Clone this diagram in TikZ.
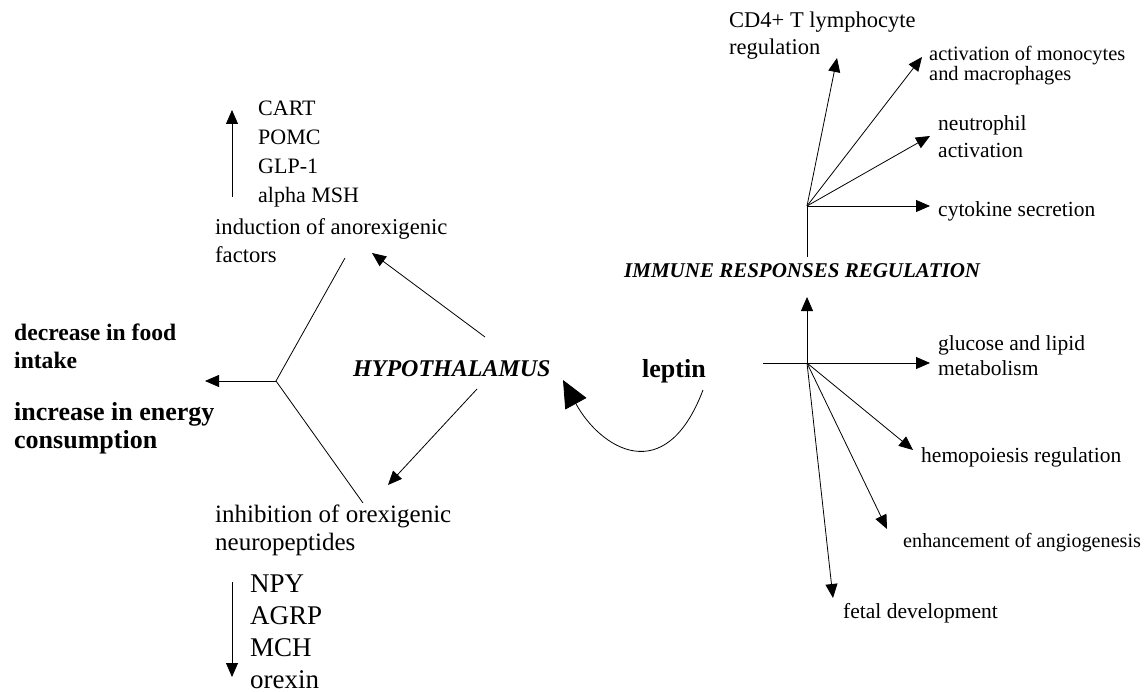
\documentclass[tikz,border=0pt]{standalone}
\usepackage{fontspec}
\setmainfont{Liberation Serif}
\usetikzlibrary{arrows.meta}
\newcommand{\fs}[2]{\fontsize{#1}{#2}\selectfont}
\tikzset{
  lbl/.style={anchor=base west, inner sep=0pt, align=left},
  ln/.style={line width=0.8pt},
  arr/.style={ln, -{Triangle[length=14pt,width=12pt]}},
  bigarr/.style={ln, -{Triangle[length=27pt,width=24pt]}}
}

\begin{document}
\begin{tikzpicture}[x=1pt,y=-1pt]
        \useasboundingbox (0,0) rectangle (1147,692);

        \node[lbl, font=\fs{22}{29.3}] (anorexlist) at (258,203) {CART\\POMC\\GLP-1\\alpha MSH};
        \node[lbl, font=\fs{22.6}{28}] (induction) at (215,263) {induction of anorexigenic\\factors};
        \node[lbl, font=\fs{25}{28}] (inhibition) at (215,550) {inhibition of orexigenic\\neuropeptides};
        \node[lbl, font=\fs{27}{32}] (orexlist) at (250,688) {NPY\\AGRP\\MCH\\orexin};
        \node[lbl, font=\bfseries\fs{23.6}{28}] (food) at (14,368) {decrease in food\\intake};
        \node[lbl, font=\bfseries\fs{26}{28}] (energy) at (14,448) {increase in energy\\consumption};
        \node[lbl, font=\bfseries\itshape\fs{24}{28}] (hypo) at (353,376) {HYPOTHALAMUS};
        \node[lbl, font=\bfseries\fs{26}{28}] (leptin) at (642,377) {leptin};
        \node[lbl, font=\bfseries\itshape\fs{21}{28}] (immune) at (624,277) {IMMUNE RESPONSES REGULATION};

        \node[lbl, font=\fs{22.5}{27}] (cdfour) at (729,55) {CD4+ T lymphocyte\\regulation};
        \node[lbl, font=\fs{20.4}{20}] (mono) at (929,81) {activation of monocytes\\and macrophages};
        \node[lbl, font=\fs{21.5}{27}] (neutro) at (938,158) {neutrophil\\activation};
        \node[lbl, font=\fs{21.5}{27}] (cyto) at (938,217) {cytokine secretion};
        \node[lbl, font=\fs{21.5}{25}] (glucose) at (938,375) {glucose and lipid\\metabolism};
        \node[lbl, font=\fs{21.5}{27}] (hemo) at (921,462) {hemopoiesis regulation};
        \node[lbl, font=\fs{20.2}{27}] (angio) at (903,547) {enhancement of angiogenesis};
        \node[lbl, font=\fs{21.5}{27}] (fetal) at (843,618) {fetal development};

        \coordinate (anorexfoot) at (232,197);
        \coordinate (anorextip) at (232,110);
        \coordinate (orexfoot) at (232,582);
        \coordinate (orextip) at (232,677);
        \coordinate (hypoup) at (485,337);
        \coordinate (inductip) at (372,253);
        \coordinate (hypodown) at (477,389);
        \coordinate (inhibtip) at (388,485);
        \coordinate (forkup) at (345,258);
        \coordinate (fork) at (276,381);
        \coordinate (forkdown) at (363,503);
        \coordinate (forktip) at (205,381);
        \coordinate (leptinfoot) at (703,390);
        \coordinate (hypotip) at (563,380);

        \coordinate (immunehub) at (807,206);
        \coordinate (immunefoot) at (807,257);
        \coordinate (cdfourtip) at (837,58);
        \coordinate (monotip) at (922,57);
        \coordinate (neutrotip) at (930,136);
        \coordinate (cytotip) at (930,206);

        \coordinate (leptinhub) at (807,363);
        \coordinate (leptinleft) at (763,363);
        \coordinate (immunetip) at (807,297);
        \coordinate (glucosetip) at (930,363);
        \coordinate (hemotip) at (913,450);
        \coordinate (angiotip) at (887,529);
        \coordinate (fetaltip) at (833,598);

        \draw[arr] (anorexfoot) -- (anorextip);
        \draw[arr] (orexfoot) -- (orextip);
        \draw[arr] (hypoup) -- (inductip);
        \draw[arr] (hypodown) -- (inhibtip);
        \draw[ln] (forkup) -- (fork) -- (forkdown);
        \draw[arr] (fork) -- (forktip);
        \draw[bigarr] (leptinfoot) .. controls (665,490) and (600,448) .. (hypotip);

        \draw[ln] (immunefoot) -- (immunehub);
        \draw[arr] (immunehub) -- (cdfourtip);
        \draw[arr] (immunehub) -- (monotip);
        \draw[arr] (immunehub) -- (neutrotip);
        \draw[arr] (immunehub) -- (cytotip);

        \draw[arr] (leptinhub) -- (immunetip);
        \draw[arr] (leptinleft) -- (glucosetip);
        \draw[arr] (leptinhub) -- (hemotip);
        \draw[arr] (leptinhub) -- (angiotip);
        \draw[arr] (leptinhub) -- (fetaltip);

    \end{tikzpicture}
\end{document}
